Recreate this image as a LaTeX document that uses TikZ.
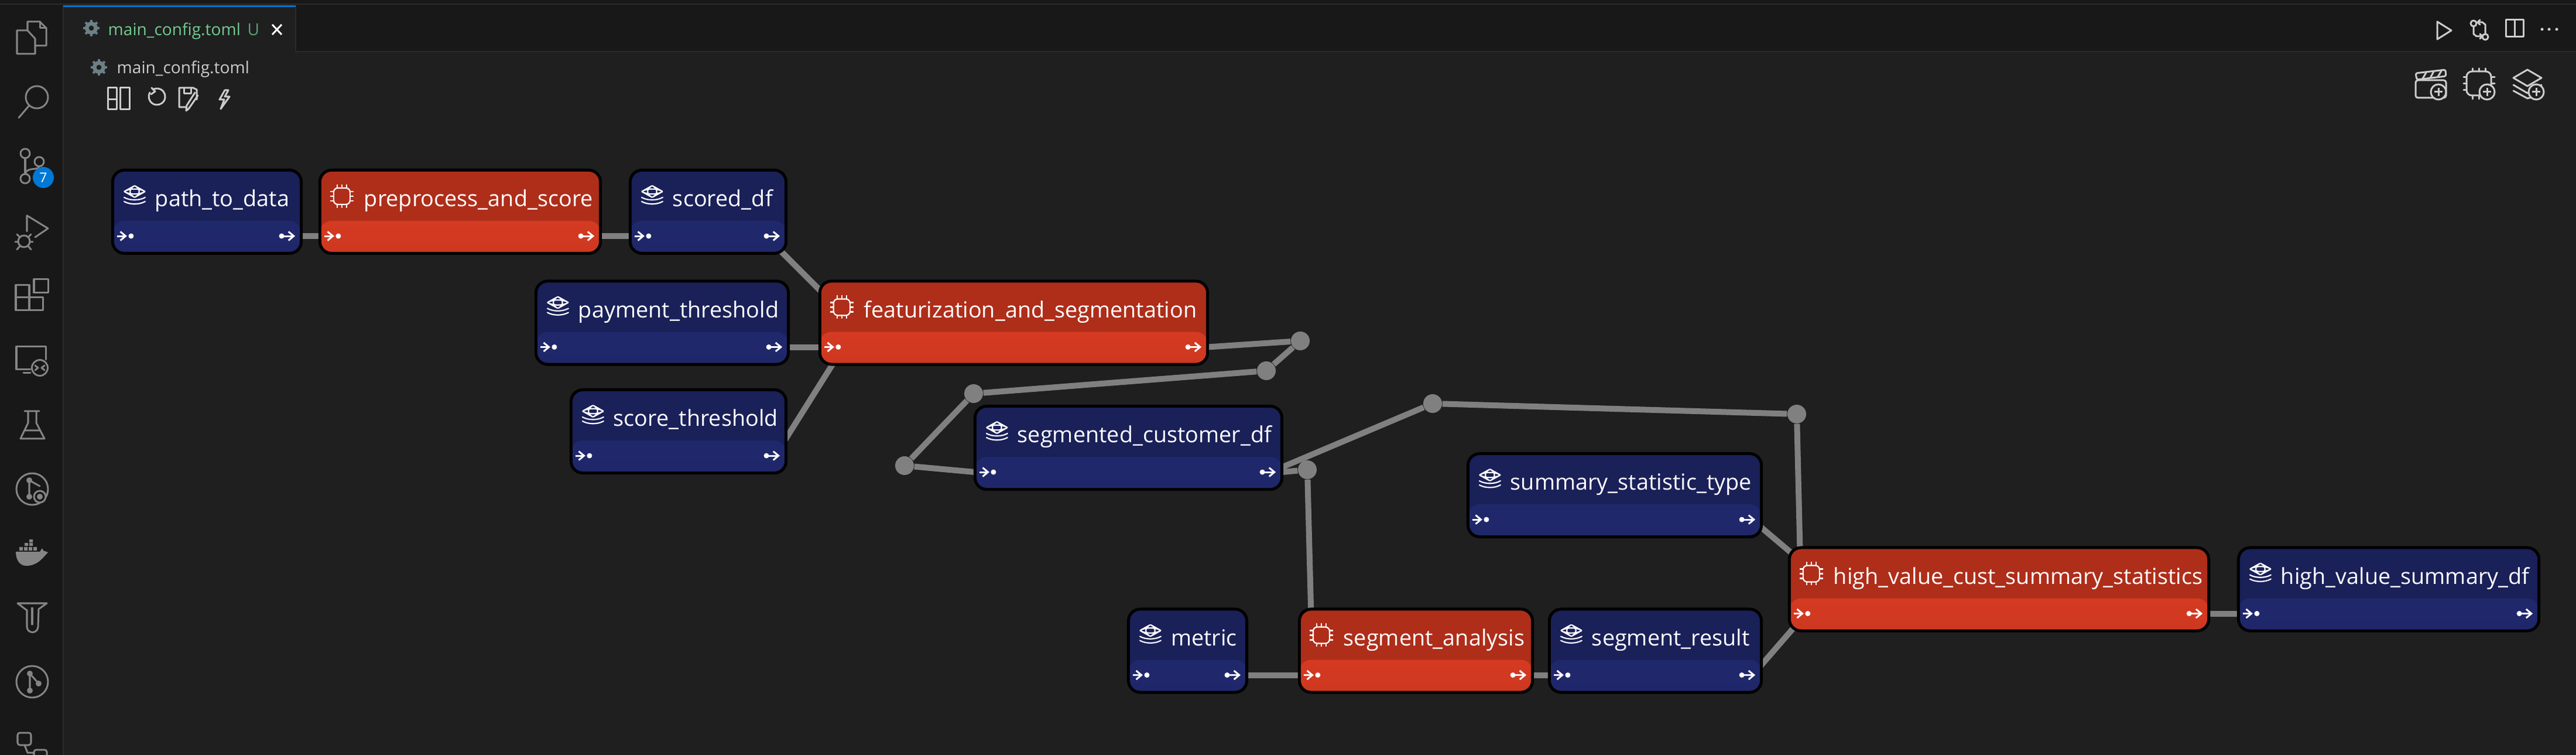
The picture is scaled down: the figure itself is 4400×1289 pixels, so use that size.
\documentclass[tikz,border=0pt]{standalone}
\usepackage{fontspec}
\setmainfont{Open Sans}
\usetikzlibrary{arrows.meta,backgrounds}
\definecolor{mainbg}{HTML}{1F1F1F}
\definecolor{barbg}{HTML}{181818}
\definecolor{barline}{HTML}{2B2B2B}
\definecolor{tabblue}{HTML}{0078D4}
\definecolor{tabgreen}{HTML}{73C991}
\definecolor{gearcol}{HTML}{6D8086}
\definecolor{iconcol}{HTML}{858585}
\definecolor{lightcol}{HTML}{CCCCCC}
\definecolor{edgecol}{HTML}{808080}
\definecolor{datahead}{HTML}{1A2058}
\definecolor{datatop}{HTML}{222B72}
\definecolor{databot}{HTML}{1F2769}
\definecolor{taskhead}{HTML}{AE2E1A}
\definecolor{tasktop}{HTML}{E03D25}
\definecolor{taskbot}{HTML}{CE3820}
\newcommand\boxfont{\fontsize{10.75}{13}\selectfont}
\newcommand\tabfont{\fontsize{8}{10}\selectfont}
\def\py{-.415cm}
\def\ppb{path picture bounding box}
\tikzset{
  flownode/.style n args={6}{draw=black,line width=.05cm,rounded corners=.2cm,
    inner sep=0pt,outer sep=0pt,text=white,font=\boxfont,align=left,
    text width=#1,text height=.625cm,text depth=.795cm,fill=#2,
    execute at begin node={\hspace*{#6}},
    path picture={
      \shade[top color=#3,bottom color=#4] (\ppb.south west) rectangle ([yshift=.555cm]\ppb.south east);
      \draw[portmark,-{Straight Barb[length=.09cm,width=.15cm]}] ([xshift=.075cm,yshift=.295cm]\ppb.south west) -- ++(17,0);
      \fill[white] ([xshift=.315cm,yshift=.295cm]\ppb.south west) circle (4.5);
      \fill[white] ([xshift=-.335cm,yshift=.295cm]\ppb.south east) circle (4.5);
      \draw[portmark,-{Straight Barb[length=.09cm,width=.15cm]}] ([xshift=-.295cm,yshift=.295cm]\ppb.south east) -- ++(19,0);
      \pic[color=white,line width=.022cm] at ([xshift=.375cm,yshift=-.445cm]\ppb.north west) {#5};
    }},
  datanode/.style={flownode={#1}{datahead}{datatop}{databot}{stackicon}{.725cm}},
  tasknode/.style={flownode={#1}{taskhead}{tasktop}{taskbot}{chipicon}{.755cm}},
  portmark/.style={white,line width=.03cm},
  flowedge/.style={edgecol,line width=.1cm},
  junction/.style={circle,fill=edgecol,inner sep=0pt,minimum size=.32cm},
  iconline/.style={iconcol,line width=.03cm,line join=round,line cap=round},
  lightline/.style={lightcol,line width=.03cm,line join=round,line cap=round},
  chromelabel/.style={font=\tabfont,inner sep=0pt,anchor=base west},
  pics/stackicon/.style={code={
    \draw[line join=round,line cap=round] (0,-18) -- (18,-8) -- (0,2) -- (-18,-8) -- cycle;
    \draw[line join=round,line cap=round] (-18,2) -- (0,12) -- (18,2);
    \draw[line join=round,line cap=round] (-18,9) -- (0,19) -- (18,9);
  }},
  pics/chipicon/.style={code={
    \draw[rounded corners=.07cm] (-14,-14) rectangle (14,14);
    \foreach \p in {-8,0,8} {
      \draw (\p,-14) -- (\p,-20); \draw (\p,14) -- (\p,20);
      \draw (-14,\p) -- (-20,\p); \draw (14,\p) -- (20,\p);
    }
  }},
  pics/gearicon/.style={code={
    \fill[even odd rule] (0,0) circle (11) (0,0) circle (4.5);
    \foreach \a in {0,45,...,315} \draw[line width=.04cm] (\a:9) -- (\a:14);
  }},
  pics/plusmark/.style={code={
    \draw[fill=mainbg] (0,0) circle (13);
    \draw (-7,0) -- (7,0); \draw (0,-7) -- (0,7);
  }}
}
\begin{document}
\begin{tikzpicture}[x=.01cm,y=-.01cm]
\useasboundingbox (0,0) rectangle (4400,1289);
% pipeline boxes
\node[datanode=3.22cm] (pathtodata) at (353.5,361.5) {path\_to\_data};
\node[tasknode=4.79cm] (preprocess) at (786,361.5) {preprocess\_and\_score};
\node[datanode=2.66cm] (scoreddf) at (1209.5,361.5) {scored\_df};
\node[datanode=4.31cm] (payment) at (1131,551) {payment\_threshold};
\node[datanode=3.67cm] (scorethr) at (1159,736.5) {score\_threshold};
\node[tasknode=6.62cm] (featseg) at (1731.5,551) {featurization\_and\_segmentation};
\node[datanode=5.24cm] (segmented) at (1927.5,764.5) {segmented\_customer\_df};
\node[datanode=5.01cm] (sumtype) at (2758,845.5) {summary\_statistic\_type};
\node[datanode=2.02cm] (metric) at (2028.5,1111) {metric};
\node[tasknode=3.98cm] (seganalysis) at (2418.5,1111) {segment\_analysis};
\node[datanode=3.62cm] (segresult) at (2827.5,1111) {segment\_result};
\node[tasknode=7.16cm] (hvstats) at (3414.5,1006) {high\_value\_cust\_summary\_statistics};
\node[datanode=5.13cm] (hvsummary) at (4080,1006) {high\_value\_summary\_df};
% edge bends
\node[junction] (j1) at (2221,582) {};
\node[junction] (j2) at (2163,633) {};
\node[junction] (j3) at (1663,672) {};
\node[junction] (j4) at (1545,795) {};
\node[junction] (j5) at (2233,802) {};
\node[junction] (j6) at (2447,689) {};
\node[junction] (j7) at (3069,707) {};
% edge ends hidden behind the boxes
\coordinate (scoredtail) at (1308,403);
\coordinate (scoredhead) at (1487,582);
\coordinate (scorethrtail) at (1324,778);
\coordinate (scorethrhead) at (1441,592);
\coordinate (segmentedtail) at (2170,806);
\coordinate (analysisin) at (2242,1151);
\coordinate (statsin) at (3077,1047);
\coordinate (sumtail) at (2990,885);
\coordinate (sumhead) at (3100,978);
\coordinate (resulttail) at (2995,1151);
\coordinate (resulthead) at (3100,1030);
\begin{scope}[on background layer]
\fill[mainbg] (0,0) rectangle (4400,1289);
\fill[barbg] (0,0) rectangle (4400,88);
\fill[barbg] (0,0) rectangle (108,1289);
\fill[mainbg] (108,9) rectangle (505,90);
\draw[barline,line width=.025cm] (0,7) -- (4400,7);
\draw[barline,line width=.025cm] (505,88) -- (4400,88);
\draw[barline,line width=.025cm] (108,9) -- (108,1289);
\draw[barline,line width=.025cm] (505,9) -- (505,88);
\fill[tabblue] (108,9) rectangle (505,12);
\draw[flowedge] ([yshift=\py]pathtodata.east) -- ([yshift=\py]preprocess.west);
\draw[flowedge] ([yshift=\py]preprocess.east) -- ([yshift=\py]scoreddf.west);
\draw[flowedge] (scoredtail) -- (scoredhead);
\draw[flowedge] ([yshift=\py]payment.east) -- ([yshift=\py]featseg.west);
\draw[flowedge] (scorethrtail) -- (scorethrhead);
\draw[flowedge] ([yshift=\py]featseg.east) -- (j1) -- (j2) -- (j3) -- (j4) -- ([yshift=\py]segmented.west);
\draw[flowedge] ([yshift=\py]segmented.east) -- (j5) -- (analysisin);
\draw[flowedge] (segmentedtail) -- (j6) -- (j7) -- (statsin);
\draw[flowedge] ([yshift=\py]metric.east) -- ([yshift=\py]seganalysis.west);
\draw[flowedge] ([yshift=\py]seganalysis.east) -- ([yshift=\py]segresult.west);
\draw[flowedge] (sumtail) -- (sumhead);
\draw[flowedge] (resulttail) -- (resulthead);
\draw[flowedge] ([yshift=\py]hvstats.east) -- ([yshift=\py]hvsummary.west);
\end{scope}
% tab and breadcrumb
\pic[color=gearcol] at (156,48) {gearicon};
\node[chromelabel,text=tabgreen] (tabname) at (184,61) {main\_config.toml};
\node[chromelabel,text=tabgreen!80!black] (tabmark) at (422,61) {U};
\draw[white,line width=.03cm] (465,42) -- (481,59) (481,42) -- (465,59);
\pic[color=gearcol] at (169,115) {gearicon};
\node[chromelabel,text=lightcol] (crumbname) at (199,126) {main\_config.toml};
% toolbar below the breadcrumb
\draw[lightline] (184,150) rectangle (199,170) (184,170) rectangle (199,187) (205,150) rectangle (221,187);
\draw[lightline] (256,158) arc (210:-120:14);
\draw[lightline] (259,150) -- (265,156) -- (258,161);
\draw[lightline] (336,170) -- (336,153) -- (330,150) -- (306,150) -- (306,183) -- (318,183);
\draw[lightline] (314,150) -- (314,160) -- (326,160) -- (326,150);
\draw[lightline] (338,163) -- (322,186) -- (318,189) -- (319,180) -- (333,158);
\draw[lightline] (384,154) -- (375,170) -- (383,170) -- (377,186) -- (392,165) -- (384,165) -- (390,154) -- cycle;
% activity bar
\draw[iconline] (47,52) -- (47,37) -- (68,37) -- (79,48) -- (79,78) -- (60,78);
\draw[iconline] (68,37) -- (68,48) -- (79,48);
\draw[iconline] (47,52) -- (29,52) -- (29,92) -- (60,92) -- (60,66) -- (47,52);
\draw[iconline] (63,166) circle (19);
\draw[iconline] (50,180) -- (32,201);
\draw[iconline] (43,262) circle (8) (67,276) circle (8) (43,305) circle (8);
\draw[iconline] (43,270) -- (43,297);
\draw[iconline] (67,284) .. controls (66,292) and (46,284) .. (43,297);
\fill[tabblue] (74,303) circle (18);
\node[inner sep=0pt,text=white,font=\fontsize{6.5}{8}\selectfont] (scmbadge) at (74,303) {7};
\draw[iconline] (46,395) -- (46,368) -- (82,390) -- (60,405);
\draw[iconline] (41,412) circle (10);
\draw[iconline] (29,400) -- (34,405) (53,400) -- (48,405) (26,413) -- (31,413) (56,413) -- (51,413) (29,426) -- (34,420) (53,426) -- (48,420);
\draw[iconline] (27,487) rectangle (50,508) (27,508) rectangle (50,530) (50,508) rectangle (73,530) (58,477) rectangle (82,500);
\draw[iconline] (52,631) -- (28,631) -- (28,592) -- (78,592) -- (78,614);
\draw[iconline] (40,637) -- (52,637);
\draw[iconline] (68,628) circle (13.5);
\draw[iconline] (60,624) -- (65,628) -- (60,632) (76,624) -- (71,628) -- (76,632);
\draw[iconline] (42,702) -- (67,702) (48,702) -- (48,722) -- (35,749) -- (76,749) -- (62,722) -- (62,702) (42,735) -- (69,735);
\draw[iconline] (55,835) circle (27);
\draw[iconline] (50,820) -- (50,848) (50,820) -- (68,830);
\fill[iconcol] (50,820) circle (5) (50,848) circle (5);
\draw[iconline,fill=barbg] (68,848) circle (10);
\fill[iconcol] (68,848) circle (5);
\fill[iconcol] (27,942) -- (68,942) -- (72,936) -- (74,940) -- (82,943) .. controls (75,950) and (65,966) .. (45,966) .. controls (33,966) and (27,955) .. (27,942) -- cycle;
\fill[iconcol] (33,934) rectangle (39,940) (41,934) rectangle (47,940) (49,934) rectangle (55,940) (57,934) rectangle (63,940) (42,927) rectangle (48,932) (50,927) rectangle (56,932) (50,921) rectangle (56,926);
\draw[iconline] (30,1030) -- (80,1030) -- (66,1040) -- (65,1070) arc (0:180:9.5) -- (46,1042) -- cycle;
\draw[iconline] (55,1038) -- (55,1066);
\draw[iconline] (55,1164) circle (27);
\draw[iconline] (51,1150) -- (51,1179) (51,1150) -- (66,1167);
\fill[iconcol] (51,1150) circle (5) (51,1179) circle (5) (66,1167) circle (5);
\draw[iconline,rounded corners=.04cm] (30,1251) rectangle (53,1272);
\draw[iconline,rounded corners=.04cm] (58,1280) rectangle (80,1300);
\draw[iconline] (42,1272) -- (47,1285) -- (58,1285);
% editor actions
\draw[lightline] (4163,37) -- (4187,52) -- (4163,67) -- cycle;
\draw[lightline] (4225,40) circle (5) (4245,63) circle (5);
\draw[lightline] (4225,45) -- (4225,58) -- (4230,62) -- (4240,62);
\draw[lightline] (4245,58) -- (4245,42) -- (4240,38) -- (4232,38);
\draw[lightline] (4236,34) -- (4232,38) -- (4236,42) (4236,58) -- (4240,62) -- (4236,66);
\draw[lightline] (4280,34) rectangle (4310,63) (4295,34) -- (4295,63);
\fill[lightcol] (4342,50) circle (2.5) (4354,50) circle (2.5) (4367,50) circle (2.5);
% add buttons
\draw[lightline,rounded corners=.04cm] (4126,137) rectangle (4178,167);
\draw[lightline,rounded corners=.03cm] (4126,125) -- (4177,119) -- (4178,130) -- (4128,136) -- cycle;
\draw[lightline] (4138,134) -- (4144,124) (4151,133) -- (4157,122) (4164,131) -- (4170,121);
\pic[color=lightcol,line width=.03cm] at (4165,157) {plusmark};
\draw[lightline,rounded corners=.09cm] (4213,122) rectangle (4255,163);
\draw[lightline] (4223,117) -- (4223,122) (4234,117) -- (4234,122) (4245,117) -- (4245,122);
\draw[lightline] (4223,163) -- (4223,169) (4234,163) -- (4234,169);
\draw[lightline] (4208,132) -- (4213,132) (4208,143) -- (4213,143) (4208,154) -- (4213,154);
\draw[lightline] (4255,132) -- (4261,132) (4255,143) -- (4261,143);
\pic[color=lightcol,line width=.03cm] at (4248,157) {plusmark};
\draw[lightline] (4317,119) -- (4341,133) -- (4317,147) -- (4293,133) -- cycle;
\draw[lightline] (4293,145) -- (4317,159) -- (4341,145);
\draw[lightline] (4293,155) -- (4317,168) -- (4325,166);
\pic[color=lightcol,line width=.03cm] at (4332,157) {plusmark};
\end{tikzpicture}
\end{document}
